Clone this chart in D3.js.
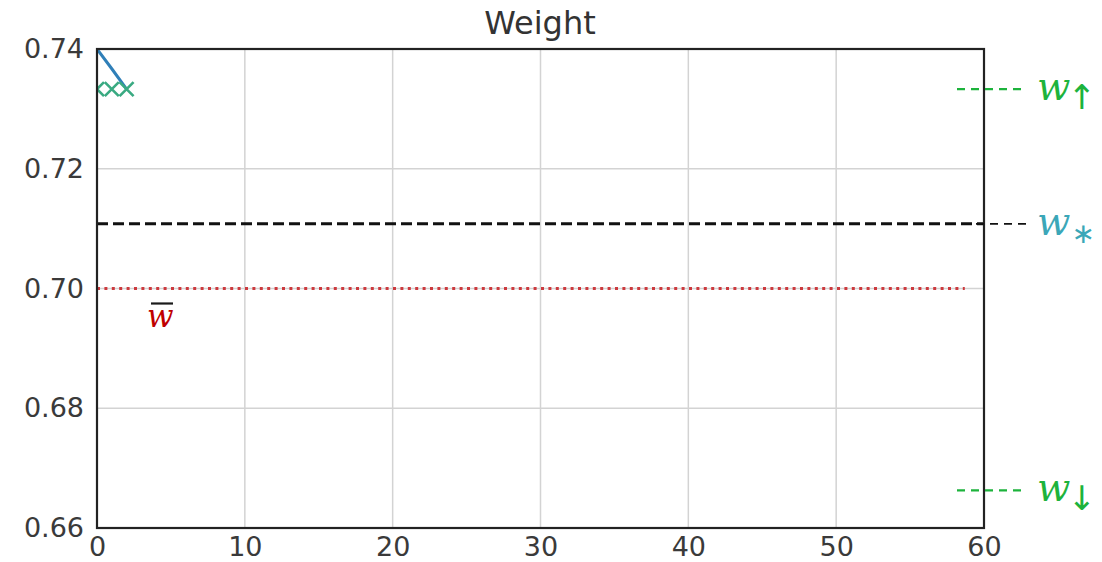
<!DOCTYPE html>
<html><head><meta charset="utf-8">
<script src="https://cdn.jsdelivr.net/npm/d3@7/dist/d3.min.js"></script>
<style>body{margin:0;background:#fff}</style>
</head><body>
<svg id="c" width="1102" height="562"></svg>
<script>
const xTicks = [0,10,20,30,40,50,60];
const yTicks = [0.66,0.68,0.70,0.72,0.74];
const iters = [0,1,2];
const blueW = [0.74,0.7367,0.7333];
const greenW = [0.7333,0.7333,0.7333];
const wUp = 0.7333, wStar = 0.7108, wBar = 0.70, wDown = 0.6663;
const wBarEnd = 58.7;

const svg = d3.select("#c");
const m = {l:97, r:984, t:49, b:528};
const x = d3.scaleLinear().domain([0,60]).range([m.l,m.r]);
const y = d3.scaleLinear().domain([0.66,0.74]).range([m.b,m.t]);
const font = "DejaVu Sans";

// grid
svg.append("g").selectAll("line").data(xTicks).join("line")
  .attr("x1",d=>x(d)).attr("x2",d=>x(d)).attr("y1",m.t).attr("y2",m.b)
  .attr("stroke","#d3d3d3").attr("stroke-width",1.5);
svg.append("g").selectAll("line").data(yTicks).join("line")
  .attr("y1",d=>y(d)).attr("y2",d=>y(d)).attr("x1",m.l).attr("x2",m.r)
  .attr("stroke","#d3d3d3").attr("stroke-width",1.5);

// axes (labels only)
const xa = svg.append("g").attr("transform",`translate(0,${m.b})`)
  .call(d3.axisBottom(x).tickValues(xTicks).tickSize(0).tickPadding(9).tickFormat(d3.format("d")));
const ya = svg.append("g").attr("transform",`translate(${m.l},0)`)
  .call(d3.axisLeft(y).tickValues(yTicks).tickSize(0).tickPadding(13).tickFormat(d3.format(".2f")));
[xa,ya].forEach(a=>{a.select(".domain").remove();
  a.selectAll("text").attr("font-family",font).attr("font-size",27).attr("fill","#3a3a3a");});

svg.append("clipPath").attr("id","pc").append("rect")
  .attr("x",m.l).attr("y",m.t).attr("width",m.r-m.l).attr("height",m.b-m.t);
const pg = svg.append("g").attr("clip-path","url(#pc)");

// red dotted w bar
pg.append("line").attr("x1",x(0)).attr("x2",x(wBarEnd)).attr("y1",y(wBar)).attr("y2",y(wBar))
  .attr("stroke","#cc3a3e").attr("stroke-width",3).attr("stroke-dasharray","3,4.4");
// black dashed w*
pg.append("line").attr("x1",x(0)).attr("x2",x(60)).attr("y1",y(wStar)).attr("y2",y(wStar))
  .attr("stroke","#111").attr("stroke-width",3).attr("stroke-dasharray","11,5");

// blue line
pg.append("path").datum(iters.map((d,i)=>[d,blueW[i]]))
  .attr("d",d3.line().x(d=>x(d[0])).y(d=>y(d[1])))
  .attr("fill","none").attr("stroke","#2f7fb8").attr("stroke-width",3);
// green x markers
const s=7;
pg.append("g").selectAll("path").data(iters.map((d,i)=>[d,greenW[i]])).join("path")
  .attr("d",d=>{const cx=x(d[0]),cy=y(d[1]);return `M${cx-s},${cy-s}L${cx+s},${cy+s}M${cx-s},${cy+s}L${cx+s},${cy-s}`;})
  .attr("stroke","#3aaa82").attr("stroke-width",2.6).attr("fill","none");

// spines
svg.append("rect").attr("x",m.l).attr("y",m.t).attr("width",m.r-m.l).attr("height",m.b-m.t)
  .attr("fill","none").attr("stroke","#222").attr("stroke-width",2.2);

// right annotations
const ann = [
  {v:wUp, col:"#1db33c", line:"#1db33c", sub:"↑", x1:957, sw:2.2, subdy:9, subsize:34, dx:-3},
  {v:wStar, col:"#3ba7b8", line:"#111", sub:"∗", x1:948, sw:1.8, subdy:8, subsize:28, dx:1},
  {v:wDown, col:"#1db33c", line:"#1db33c", sub:"↓", x1:957, sw:2.2, subdy:9, subsize:34, dx:-3}
];
ann.forEach(a=>{
  svg.append("line").attr("x1",a.x1).attr("x2",1026).attr("y1",y(a.v)).attr("y2",y(a.v))
    .attr("stroke",a.line).attr("stroke-width",a.sw).attr("stroke-dasharray","8,6");
  const t = svg.append("text").attr("x",1037).attr("y",y(a.v)+11)
    .attr("font-family","DejaVu Serif").attr("font-style","italic").attr("font-size",39).attr("fill",a.col);
  t.append("tspan").text("w");
  t.append("tspan").attr("dx",a.dx).attr("dy",a.subdy).attr("font-size",a.subsize).attr("font-family","DejaVu Sans").attr("font-style","normal").text(a.sub);
});

// w bar label
svg.append("text").attr("x",147).attr("y",y(wBar)+38)
  .attr("font-family","DejaVu Serif").attr("font-style","italic").attr("font-size",31).attr("fill","#c00000").text("w");
svg.append("line").attr("x1",151).attr("x2",173).attr("y1",y(wBar)+15).attr("y2",y(wBar)+15)
  .attr("stroke","#1a1a1a").attr("stroke-width",2.2);

// title
svg.append("text").attr("x",540).attr("y",34).attr("text-anchor","middle")
  .attr("font-family",font).attr("font-size",32).attr("fill","#333").text("Weight");
</script>
</body></html>
